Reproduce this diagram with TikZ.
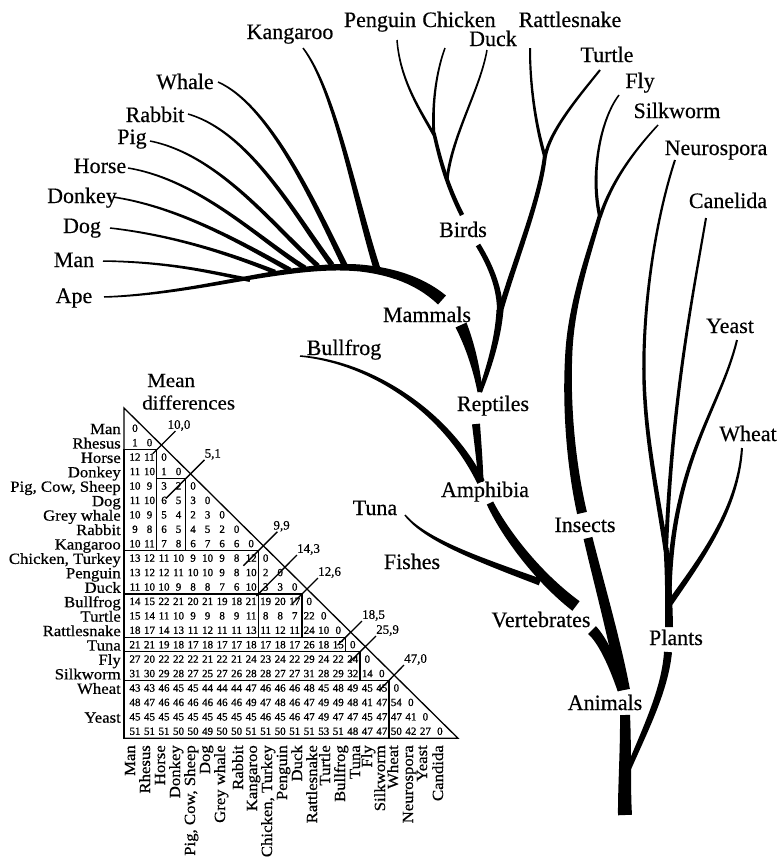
\documentclass[tikz,border=0pt]{standalone}
\usepackage{fontspec}
\setmainfont{Liberation Serif}
\newfontfamily\treefont{Liberation Serif}[FakeBold=0.4]
\newfontfamily\meanfont{Liberation Serif}[FakeBold=0.4,FakeStretch=1.05]
\newfontfamily\labfont{Liberation Serif}[FakeBold=0.6,FakeStretch=1.08]
\newfontfamily\numfont{Liberation Serif}[FakeBold=1.0]
\usetikzlibrary{calc}
\tikzset{
  lab/.style={font=\treefont\fontsize{22}{22}\selectfont, inner sep=0pt, anchor=base},
  rowlab/.style={font=\labfont\fontsize{15.5}{15.5}\selectfont, inner sep=0pt, anchor=base east},
  collab/.style={font=\labfont\fontsize{15.5}{15.5}\selectfont, inner sep=0pt, anchor=base east, rotate=90},
  num/.style={font=\numfont\fontsize{11}{11}\selectfont, inner sep=0pt, anchor=base},
  cutlab/.style={font=\treefont\fontsize{13}{13}\selectfont, inner sep=0pt, anchor=south west},
  mline/.style={line width=1.3pt},
}
% tapered branch: tip, control 1, control 2, base, tip width, base width
\newcommand\tbranch[6]{%
  \pgfmathsetmacro\tbwa{#5/2}%
  \pgfmathsetmacro\tbwb{(#5+(#6-#5)/3)/2}%
  \pgfmathsetmacro\tbwc{(#5+2*(#6-#5)/3)/2}%
  \pgfmathsetmacro\tbwd{#6/2}%
  \fill ($(#1)!\tbwa pt!90:(#2)$) .. controls ($(#2)!\tbwb pt!90:(#3)$) and ($(#3)!\tbwc pt!90:(#4)$) .. ($(#4)!\tbwd pt!-90:(#3)$)
     -- ($(#4)!\tbwd pt!90:(#3)$) .. controls ($(#3)!\tbwc pt!-90:(#4)$) and ($(#2)!\tbwb pt!-90:(#3)$) .. ($(#1)!\tbwa pt!-90:(#2)$) -- cycle;
}
\begin{document}
\begin{tikzpicture}[x=1pt,y=-1pt]
\useasboundingbox (0,0) rectangle (777,860);

% ---------------- tree labels ----------------
\node[lab] (kang) at (290,39) {Kangaroo};
\node[lab] (peng) at (380,27) {Penguin};
\node[lab] (chick) at (459,27) {Chicken};
\node[lab] (duck) at (493,46) {Duck};
\node[lab] (rattle) at (570,27) {Rattlesnake};
\node[lab] (turtle) at (607,62) {Turtle};
\node[lab] (fly) at (640,88) {Fly};
\node[lab] (silk) at (677,118) {Silkworm};
\node[lab] (neuro) at (716,155) {Neurospora};
\node[lab] (cand) at (728,208) {Canelida};
\node[lab] (whale) at (185,89) {Whale};
\node[lab] (rabbit) at (155,122) {Rabbit};
\node[lab] (pig) at (132,144) {Pig};
\node[lab] (horse) at (100,173) {Horse};
\node[lab] (donkey) at (82,203) {Donkey};
\node[lab] (dog) at (82,233) {Dog};
\node[lab] (man) at (74,267) {Man};
\node[lab] (ape) at (74,303) {Ape};
\node[lab] (birds) at (463,237) {Birds};
\node[lab] (mammals) at (427,322) {Mammals};
\node[lab] (bullfrog) at (344,355) {Bullfrog};
\node[lab] (reptiles) at (493,411) {Reptiles};
\node[lab] (yeast) at (730,333) {Yeast};
\node[lab] (amph) at (485,497) {Amphibia};
\node[lab] (wheat) at (748,441) {Wheat};
\node[lab] (tuna) at (375,515) {Tuna};
\node[lab] (fishes) at (412,569) {Fishes};
\node[lab] (insects) at (585,532) {Insects};
\node[lab] (vert) at (541,627) {Vertebrates};
\node[lab] (plants) at (676,645) {Plants};
\node[lab] (animals) at (605,710) {Animals};

% ---------------- tree branches ----------------
% mammals
\tbranch{104,297}{200,294}{290,262}{360,268}{1.5}{7}
\tbranch{360,268}{400,272}{425,285}{442,300}{7}{12}
\tbranch{103,261}{170,262}{210,272}{250,280}{1.5}{4}
\tbranch{110,228}{180,236}{240,258}{275,272}{1.5}{4.5}
\tbranch{113,197}{180,207}{245,245}{290,270}{1.5}{5}
\tbranch{128,168}{200,180}{260,240}{305,268}{1.5}{5}
\tbranch{150,141}{220,155}{275,228}{318,266}{1.5}{5}
\tbranch{188,114}{250,132}{295,215}{332,265}{1.5}{5.5}
\tbranch{218,82}{270,105}{315,205}{345,266}{1.5}{6}
\tbranch{303,48}{335,90}{355,200}{378,272}{1.5}{7}
% birds
\tbranch{397,40}{400,80}{420,110}{434,135}{1.5}{3}
\tbranch{445,48}{435,75}{432,110}{434,135}{1.5}{3}
\tbranch{434,133}{440,160}{447,185}{462,215}{3.5}{4.5}
\tbranch{487,50}{480,90}{452,135}{447,180}{1.5}{3}
\tbranch{478,245}{492,268}{500,290}{500,312}{5}{6}
\tbranch{500,310}{498,340}{488,370}{480,392}{7}{4}
% reptiles
\tbranch{530,48}{530,100}{540,140}{545,157}{2}{3.5}
\tbranch{600,70}{580,95}{550,130}{545,157}{2}{3.5}
\tbranch{545,155}{540,200}{515,260}{500,312}{4}{5.5}
% mammal stem
\tbranch{461,325}{470,345}{477,370}{480,392}{12}{5}
% trunk below reptiles and bullfrog
\tbranch{476,424}{478,445}{480,465}{481,482}{8}{5}
\tbranch{300,356}{370,362}{445,410}{481,482}{1.5}{8}
% vertebrates
\tbranch{405,515}{425,540}{480,560}{540,582}{1.5}{7}
\tbranch{490,503}{503,530}{535,575}{576,606}{7}{12}
\tbranch{592,630}{602,640}{612,660}{622,690}{11}{9}
% insects
\tbranch{619,95}{600,120}{590,175}{600,217}{1.5}{3.5}
\tbranch{658,125}{635,150}{612,180}{600,217}{1.5}{3.5}
\tbranch{600,215}{590,250}{572,300}{569,350}{4}{7}
\tbranch{569,350}{566,400}{570,460}{582,513}{7}{10}
\tbranch{588,538}{598,580}{615,640}{624,690}{9}{12}
% animals trunk
\tbranch{625,715}{626,750}{624,790}{625,815}{10}{14}
% plants
\tbranch{668,652}{665,690}{645,730}{628,770}{8}{5}
\tbranch{666,548}{668,570}{669,600}{669,627}{5}{8}
\tbranch{675,160}{652,230}{640,330}{645,400}{2}{3.5}
\tbranch{645,400}{648,450}{660,510}{666,550}{3.5}{5}
\tbranch{706,218}{692,300}{672,400}{666,550}{2}{4}
\tbranch{737,340}{720,410}{672,460}{669,595}{2}{5}
\tbranch{742,448}{738,510}{700,560}{670,603}{2}{6}

% ---------------- matrix ----------------
\node[font=\meanfont\fontsize{20}{20}\selectfont, inner sep=0pt, anchor=base west] (mean) at (147,387) {Mean};
\node[font=\meanfont\fontsize{20}{20}\selectfont, inner sep=0pt, anchor=base west] (diff) at (142,409.5) {differences};

\draw[mline] (124,408) -- (458,738.26) -- (124,738.26) -- cycle;
\draw[mline] (124,449.66) rectangle (156.78,550.67);
\draw[mline] (156.78,478.52) rectangle (185.82,550.67);
\draw[mline] (124,550.67) rectangle (258.42,593.96);
\draw[mline] (124,593.96) rectangle (258.42,637.25);
\draw[mline] (258.42,593.96) rectangle (301.98,637.25);
\draw[mline] (124,637.25) rectangle (345.54,651.68);
\draw[mline] (124,651.68) rectangle (360.06,680.54);
\draw[mline] (124,680.54) rectangle (389.1,738.26);

% cut lines
\draw[mline] (152.78,453.66) -- coordinate[pos=1] (k1) (175.43,431.01);
\node[cutlab] (c1) at ([xshift=-8pt]k1) {10,0};
\draw[mline] (165.82,498.52) -- coordinate[pos=1] (k2) (204.52,459.82);
\node[cutlab] (c2) at (k2) {5,1};
\draw[mline] (243.42,565.67) -- coordinate[pos=1] (k3) (277.32,531.77);
\node[cutlab] (c3) at ([xshift=-4pt]k3) {9,9};
\draw[mline] (256.42,595.96) -- coordinate[pos=1] (k4) (297,555);
\node[cutlab] (c4) at (k4) {14,3};
\draw[mline] (291.98,603.96) -- coordinate[pos=1] (k5) (318,578);
\node[cutlab] (c5) at (k5) {12,6};
\draw[mline] (337.54,645.25) -- coordinate[pos=1] (k6) (362,621);
\node[cutlab] (c6) at (k6) {18,5};
\draw[mline] (350.06,661.68) -- coordinate[pos=1] (k7) (376,636);
\node[cutlab] (c7) at (k7) {25,9};
\draw[mline] (379.1,690.54) -- coordinate[pos=1] (k8) (404,665);
\node[cutlab] (c8) at (k8) {47,0};

% numbers
\foreach \row [count=\i] in {{0},{1,0},{12,11,0},{11,10,1,0},{10,9,3,2,0},{11,10,6,5,3,0},{10,9,5,4,2,3,0},{9,8,6,5,4,5,2,0},{10,11,7,8,6,7,6,6,0},{13,12,11,10,9,10,9,8,12,0},{13,12,12,11,10,10,9,8,10,2,0},{11,10,10,9,8,8,7,6,10,3,3,0},{14,15,22,21,20,21,19,18,21,19,20,17,0},{15,14,11,10,9,9,8,9,11,8,8,7,22,0},{18,17,14,13,11,12,11,11,13,11,12,11,24,10,0},{21,21,19,18,17,18,17,17,18,17,18,17,26,18,15,0},{27,20,22,22,22,21,22,21,24,23,24,22,29,24,22,24,0},{31,30,29,28,27,25,27,26,28,28,27,27,31,28,29,32,14,0},{43,43,46,45,45,44,44,44,47,46,46,46,48,45,48,49,45,45,0},{48,47,46,46,46,46,46,46,49,47,48,46,47,49,49,48,41,47,54,0},{45,45,45,45,45,45,45,45,45,46,45,46,47,49,47,47,45,47,47,41,0},{51,51,51,50,50,49,50,50,51,51,50,51,51,53,51,48,47,47,50,42,27,0}} {
  \foreach \v [count=\j] in \row {
    \node[num] (n\i-\j) at ({120.48+14.52*\j},{417.4+14.43*\i}) {\v};
  }
}

% row labels
\foreach \i/\t in {1/Man,2/Rhesus,3/Horse,4/Donkey,5/{Pig, Cow, Sheep},6/Dog,7/Grey whale,8/Rabbit,9/Kangaroo,10/{Chicken, Turkey},11/Penguin,12/Duck,13/Bullfrog,14/Turtle,15/Rattlesnake,16/Tuna,17/Fly,18/Silkworm,19/Wheat,21/Yeast} {
  \node[rowlab] (r\i) at (121,{419.6+14.43*\i}) {\t};
}

% column labels
\foreach \x/\t [count=\j] in {135/Man,150/Rhesus,165/Horse,180/Donkey,195/{Pig, Cow, Sheep},210/Dog,225/Grey whale,243/Rabbit,257/Kangaroo,272/{Chicken, Turkey},287/Penguin,302/Duck,317/Rattlesnake,330/Turtle,345/Bullfrog,360/Tuna,372/Fly,385/Silkworm,398/Wheat,413/Neurospora,427/Yeast,443/Candida} {
  \node[collab] (col\j) at (\x,745) {\t};
}
\end{tikzpicture}
\end{document}
